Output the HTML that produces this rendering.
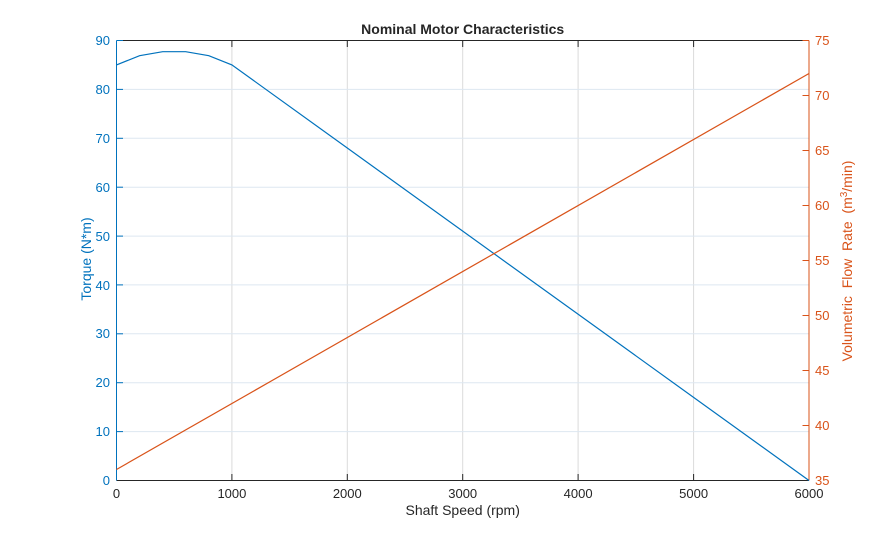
<!DOCTYPE html>
<html><head><meta charset="utf-8"><style>
html,body{margin:0;padding:0;background:#fff;}
svg{display:block;}
text{font-family:"Liberation Sans",Arial,sans-serif;}
</style></head><body>
<svg width="895" height="540" viewBox="0 0 895 540" xmlns="http://www.w3.org/2000/svg">
<rect width="895" height="540" fill="#fff"/>
<!-- vertical grid -->
<g stroke="#dadada" stroke-width="1">
<line x1="231.9" y1="40.5" x2="231.9" y2="480.5"/>
<line x1="347.3" y1="40.5" x2="347.3" y2="480.5"/>
<line x1="462.7" y1="40.5" x2="462.7" y2="480.5"/>
<line x1="578.1" y1="40.5" x2="578.1" y2="480.5"/>
<line x1="693.6" y1="40.5" x2="693.6" y2="480.5"/>
</g>
<!-- horizontal grid -->
<g stroke="#dde7f1" stroke-width="1">
<line x1="116.5" y1="431.6" x2="809" y2="431.6"/>
<line x1="116.5" y1="382.7" x2="809" y2="382.7"/>
<line x1="116.5" y1="333.8" x2="809" y2="333.8"/>
<line x1="116.5" y1="284.9" x2="809" y2="284.9"/>
<line x1="116.5" y1="236.1" x2="809" y2="236.1"/>
<line x1="116.5" y1="187.2" x2="809" y2="187.2"/>
<line x1="116.5" y1="138.3" x2="809" y2="138.3"/>
<line x1="116.5" y1="89.4" x2="809" y2="89.4"/>
</g>
<!-- top & bottom axes -->
<line x1="116.5" y1="40.5" x2="809" y2="40.5" stroke="#262626" stroke-width="1"/>
<line x1="116.5" y1="480.5" x2="809" y2="480.5" stroke="#262626" stroke-width="1"/>
<!-- x ticks -->
<g stroke="#262626" stroke-width="1">
<line x1="231.9" y1="480.5" x2="231.9" y2="474"/><line x1="231.9" y1="40.5" x2="231.9" y2="47"/>
<line x1="347.3" y1="480.5" x2="347.3" y2="474"/><line x1="347.3" y1="40.5" x2="347.3" y2="47"/>
<line x1="462.7" y1="480.5" x2="462.7" y2="474"/><line x1="462.7" y1="40.5" x2="462.7" y2="47"/>
<line x1="578.1" y1="480.5" x2="578.1" y2="474"/><line x1="578.1" y1="40.5" x2="578.1" y2="47"/>
<line x1="693.6" y1="480.5" x2="693.6" y2="474"/><line x1="693.6" y1="40.5" x2="693.6" y2="47"/>
</g>
<!-- left axis -->
<g stroke="#0072BD" stroke-width="1">
<line x1="116.5" y1="40.5" x2="116.5" y2="480.5"/>
<line x1="116.5" y1="431.6" x2="123" y2="431.6"/>
<line x1="116.5" y1="382.7" x2="123" y2="382.7"/>
<line x1="116.5" y1="333.8" x2="123" y2="333.8"/>
<line x1="116.5" y1="284.9" x2="123" y2="284.9"/>
<line x1="116.5" y1="236.1" x2="123" y2="236.1"/>
<line x1="116.5" y1="187.2" x2="123" y2="187.2"/>
<line x1="116.5" y1="138.3" x2="123" y2="138.3"/>
<line x1="116.5" y1="89.4" x2="123" y2="89.4"/>
<line x1="116.5" y1="40.5" x2="123" y2="40.5"/>
</g>
<g fill="#0072BD" font-size="13" text-anchor="end">
<text x="110" y="485">0</text>
<text x="110" y="436">10</text>
<text x="110" y="387">20</text>
<text x="110" y="338">30</text>
<text x="110" y="290">40</text>
<text x="110" y="241">50</text>
<text x="110" y="192">60</text>
<text x="110" y="143">70</text>
<text x="110" y="94">80</text>
<text x="110" y="45">90</text>
</g>
<text transform="translate(91,259) rotate(-90)" fill="#0072BD" font-size="14" text-anchor="middle">Torque (N*m)</text>
<!-- right axis -->
<g stroke="#D95319" stroke-width="1">
<line x1="809" y1="40.5" x2="809" y2="480.5"/>
<line x1="809" y1="425.5" x2="802.5" y2="425.5"/>
<line x1="809" y1="370.5" x2="802.5" y2="370.5"/>
<line x1="809" y1="315.5" x2="802.5" y2="315.5"/>
<line x1="809" y1="260.5" x2="802.5" y2="260.5"/>
<line x1="809" y1="205.5" x2="802.5" y2="205.5"/>
<line x1="809" y1="150.5" x2="802.5" y2="150.5"/>
<line x1="809" y1="95.5" x2="802.5" y2="95.5"/>
<line x1="809" y1="40.5" x2="802.5" y2="40.5"/>
</g>
<g fill="#D95319" font-size="13" text-anchor="start">
<text x="815" y="485">35</text>
<text x="815" y="430">40</text>
<text x="815" y="375">45</text>
<text x="815" y="320">50</text>
<text x="815" y="265">55</text>
<text x="815" y="210">60</text>
<text x="815" y="155">65</text>
<text x="815" y="100">70</text>
<text x="815" y="45">75</text>
</g>
<text transform="translate(852,261) rotate(-90)" fill="#D95319" font-size="14" text-anchor="middle" xml:space="preserve">Volumetric  Flow  Rate  (m<tspan font-size="10" dy="-5">3</tspan><tspan dy="5">/min)</tspan></text>
<!-- x labels -->
<g fill="#262626" font-size="13" text-anchor="middle">
<text x="116.5" y="498">0</text>
<text x="231.9" y="498">1000</text>
<text x="347.3" y="498">2000</text>
<text x="462.7" y="498">3000</text>
<text x="578.1" y="498">4000</text>
<text x="693.6" y="498">5000</text>
<text x="809" y="498">6000</text>
</g>
<text x="462.7" y="515" fill="#262626" font-size="14" text-anchor="middle">Shaft Speed (rpm)</text>
<text x="462.7" y="34" fill="#262626" font-size="14" font-weight="bold" text-anchor="middle">Nominal Motor Characteristics</text>
<!-- series -->
<polyline fill="none" stroke="#0072BD" stroke-width="1.2" points="116.5,64.9 139.6,55.7 162.7,51.7 185.7,51.7 208.8,55.7 231.9,64.9 809,480.5"/>
<line x1="116.5" y1="469.5" x2="809" y2="73.5" stroke="#D95319" stroke-width="1.2"/>
</svg>
</body></html>
